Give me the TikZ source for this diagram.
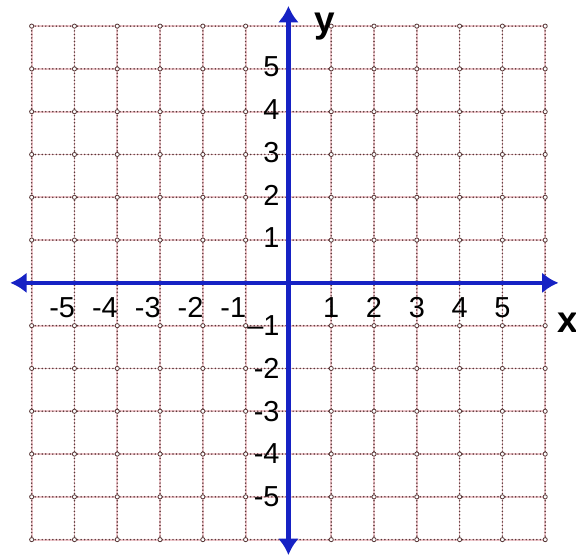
\documentclass[tikz,border=0pt]{standalone}
\usepackage{fontspec}
\setmainfont{Liberation Sans}
\usepackage{xcolor}
\usepackage{tikz}
\usetikzlibrary{arrows.meta,positioning,calc}

\definecolor{axisblue}{RGB}{22,34,196}
\definecolor{griddot}{RGB}{88,56,56}
\definecolor{gridpink}{RGB}{240,200,205}

\begin{document}
\begin{tikzpicture}[
        x=0.9366cm, y=0.9366cm,
        pinkline/.style={draw=gridpink, line width=1.1pt},
        dotline/.style={draw=griddot, line width=1.05pt, line cap=round, dash pattern=on 0pt off 2.2pt},
        crossing/.style={draw=griddot, line width=0.5pt, fill=white},
        axis/.style={draw=axisblue, line width=2.7pt, {Latex[length=3.6mm,width=4.6mm]}-{Latex[length=3.6mm,width=4.6mm]}},
        tick/.style={inner sep=0pt, font=\fontsize{18}{20}\selectfont},
        axislabel/.style={inner sep=0pt, font=\fontsize{23}{25}\selectfont\bfseries}
    ]

    % frame of the picture
    \useasboundingbox (-6.74,-6.43) rectangle (6.72,6.61);

    % Grid: faint pink lines under dotted lines
    \foreach \k in {-6,...,6} {
        \draw[pinkline] (\k,-6) -- (\k,6);
        \draw[pinkline] (-6,\k) -- (6,\k);
    }
    \foreach \k in {-6,...,6} {
        \draw[dotline] (\k,-6) -- (\k,6);
        \draw[dotline] (-6,\k) -- (6,\k);
    }

    % Small circles where grid lines cross
    \foreach \i in {-6,...,6} {
        \foreach \j in {-6,...,6} {
            \draw[crossing] (\i,\j) circle (1.3pt);
        }
    }

    % Axes
    \coordinate (xl) at (-6.50,0);
    \coordinate (xr) at (6.31,0);
    \coordinate (yb) at (0,-6.36);
    \coordinate (yt) at (0,6.47);
    \draw[axis] (xl) -- (xr);
    \draw[axis] (yb) -- (yt);

    % Axis names
    \node[axislabel, anchor=base west] (ylab) at (0.60,5.84) {y};
    \node[axislabel, anchor=base west] (xlab) at (6.27,-1.17) {x};

    % Numbers on the x axis
    \foreach \n in {1,...,5} {
        \node[tick, anchor=north] (xp\n) at (\n,-0.34) {\n};
        \node[tick, anchor=north east] (xm\n) at (-\n+0.02,-0.34) {-\n};
    }

    % Numbers on the y axis
    \foreach \n in {2,...,5} {
        \node[tick, anchor=east] (yp\n) at (-0.2,\n+0.05) {\n};
        \node[tick, anchor=east] (ym\n) at (-0.2,-\n) {-\n};
    }
    \node[tick, anchor=east] (yp1) at (-0.2,1.05) {1};
    \node[tick, anchor=east] (ym1) at (-0.2,-1) {--1};

\end{tikzpicture}
\end{document}
